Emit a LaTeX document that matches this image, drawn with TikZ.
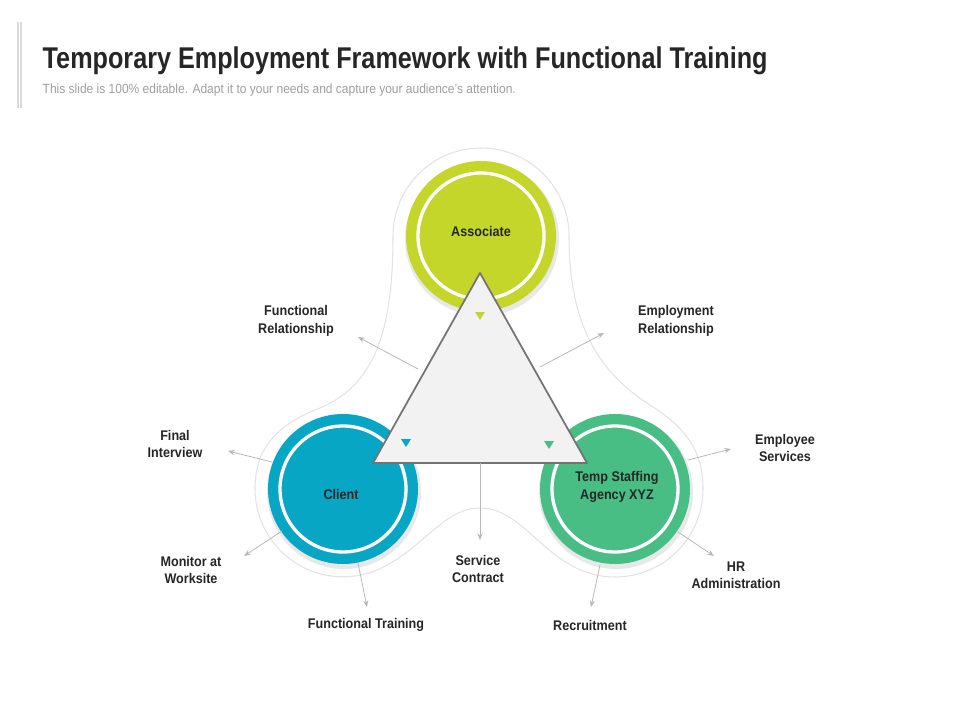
\documentclass[tikz,border=0pt]{standalone}
\usepackage{fontspec}
\setmainfont{Liberation Sans}
\usetikzlibrary{arrows.meta}
\definecolor{lime}{HTML}{C5D62A}
\definecolor{teal}{HTML}{07A6C4}
\definecolor{agreen}{HTML}{48BE84}
\definecolor{txt}{HTML}{262626}
\tikzset{
 lbl/.style={font=\bfseries\fontsize{10.5}{13}\selectfont, text=txt, align=center},
 arr/.style={draw=gray!55, line width=0.6pt, -{Stealth[length=5pt,width=4pt]}},
 mark/.style={},
}
\begin{document}
\begin{tikzpicture}[x=0.75pt,y=-0.75pt]
\useasboundingbox (0,0) rectangle (960,720);
\fill[white] (0,0) rectangle (960,720);
% header
\draw[gray!30, line width=0.8pt] (18,22) -- (18,108);
\draw[gray!30, line width=0.8pt] (21,22) -- (21,108);
\node[anchor=west, text=txt] (title) at (38,61) {\scalebox{0.84}[1]{\bfseries\fontsize{22.5}{26}\selectfont Temporary Employment Framework with Functional Training}};
\node[anchor=west, text=gray!75] (sub) at (38,90) {\scalebox{0.9}[1]{\fontsize{10}{12}\selectfont This slide is 100\% editable. Adapt it to your needs and capture your audience’s attention.}};
% blob outline
\draw[gray!22, line width=0.8pt] (393,236) arc[start angle=180, end angle=360, radius=88]
 .. controls (569,320) and (595,370) .. (650,405)
 .. controls (690,430) and (703,455) .. (703,489)
 arc[start angle=0, end angle=120, radius=88]
 .. controls (535,545) and (515,508) .. (480,508)
 .. controls (445,508) and (425,545) .. (387,565)
 arc[start angle=60, end angle=180, radius=88]
 .. controls (255,450) and (275,425) .. (320,408)
 .. controls (375,385) and (393,330) .. (393,236);
% circles
\foreach \n/\cx/\cy/\c in {assoc/481/236/lime, client/343/489/teal, temp/615/489/agreen}{
  \fill[gray!18] (\cx+1,\cy+3) circle[radius=77];
  \fill[\c] (\cx,\cy) circle[radius=75];
  \draw[white, line width=2.5pt] (\cx,\cy) circle[radius=63];
}
\node[lbl] (assocT) at (481,231) {\scalebox{0.9}[1]{Associate}};
\node[lbl] (clientT) at (341,494) {\scalebox{0.9}[1]{Client}};
\node[lbl] (tempT) at (617,487) {\scalebox{0.9}[1]{Temp Staffing}\\\scalebox{0.9}[1]{Agency XYZ}};
% triangle
\coordinate (apex) at (480,273);
\coordinate (bl) at (373,463);
\coordinate (br) at (587,463);
\filldraw[fill=gray!10, draw=gray!90!black, line width=1.3pt, line join=round] (apex) -- (bl) -- (br) -- cycle;
\fill[lime] (475,312) -- (485,312) -- (480,320) -- cycle;
\fill[teal] (401,439) -- (411,439) -- (406,447) -- cycle;
\fill[agreen] (544,441) -- (554,441) -- (549,449) -- cycle;
% arrows
\coordinate (s1) at (418,369); \coordinate (e1) at (358,337);
\coordinate (s2) at (540,367); \coordinate (e2) at (604,333);
\coordinate (s3) at (272,462); \coordinate (e3) at (228,451);
\coordinate (s4) at (282,531); \coordinate (e4) at (244,556);
\coordinate (s5) at (358,563); \coordinate (e5) at (367,607);
\coordinate (s6) at (480,463); \coordinate (e6) at (480,540);
\coordinate (s7) at (600,565); \coordinate (e7) at (591,607);
\coordinate (s8) at (678,532); \coordinate (e8) at (714,556);
\coordinate (s9) at (688,460); \coordinate (e9) at (731,449);
\foreach \i in {1,...,9}{\draw[arr] (s\i) -- (e\i);}
% labels
\node[lbl] (l1) at (296,321) {\scalebox{0.9}[1]{Functional}\\\scalebox{0.9}[1]{Relationship}};
\node[lbl] (l2) at (676,321) {\scalebox{0.9}[1]{Employment}\\\scalebox{0.9}[1]{Relationship}};
\node[lbl] (l3) at (175,444) {\scalebox{0.9}[1]{Final}\\\scalebox{0.9}[1]{Interview}};
\node[lbl] (l4) at (191,570) {\scalebox{0.9}[1]{Monitor at}\\\scalebox{0.9}[1]{Worksite}};
\node[lbl] (l5) at (366,625) {\scalebox{0.9}[1]{Functional Training}};
\node[lbl] (l6) at (478,569) {\scalebox{0.9}[1]{Service}\\\scalebox{0.9}[1]{Contract}};
\node[lbl] (l7) at (590,625) {\scalebox{0.9}[1]{Recruitment}};
\node[lbl] (l8) at (736,575) {\scalebox{0.9}[1]{HR}\\\scalebox{0.9}[1]{Administration}};
\node[lbl] (l9) at (785,448) {\scalebox{0.9}[1]{Employee}\\\scalebox{0.9}[1]{Services}};
\end{tikzpicture}
\end{document}
